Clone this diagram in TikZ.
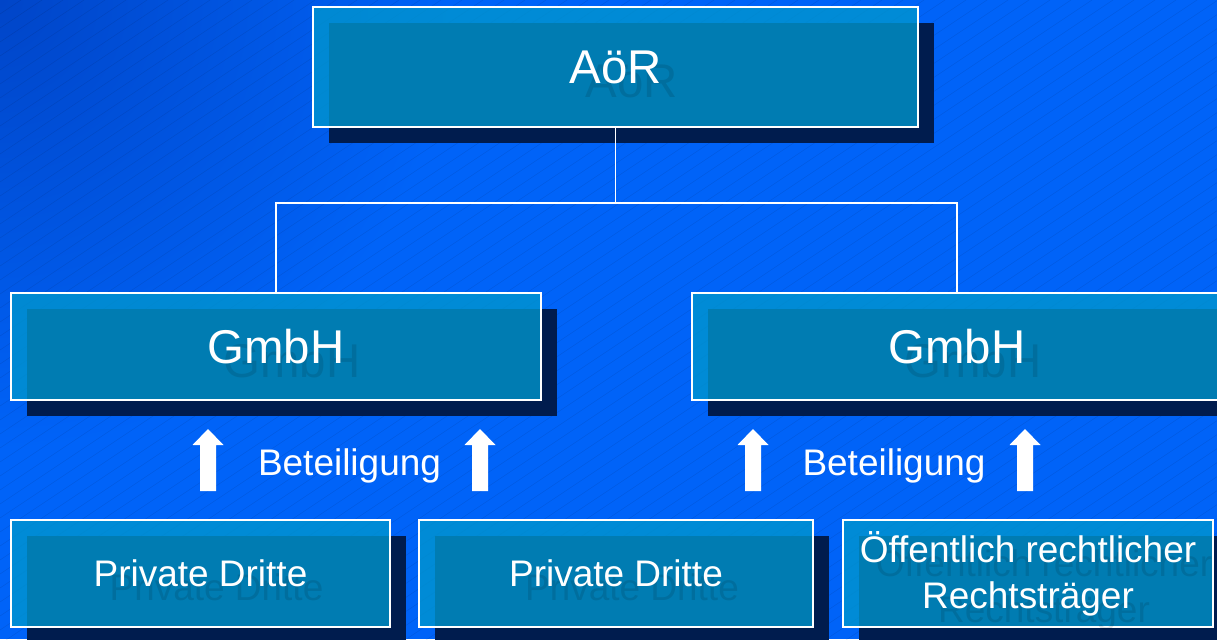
\documentclass[tikz,border=0pt]{standalone}
\usepackage{fontspec}
\setmainfont{Liberation Sans}
\usetikzlibrary{shadows}
\definecolor{bgdark}{RGB}{0,69,200}
\definecolor{bgbright}{RGB}{0,99,248}
\definecolor{boxfill}{RGB}{0,150,205}
\definecolor{navy}{RGB}{0,28,78}
\tikzset{
	box/.style={draw=white,line width=1pt,fill=boxfill,fill opacity=.79,inner sep=0pt,
		drop shadow={shadow xshift=.4cm,shadow yshift=-.4cm,fill=navy,opacity=1,draw=none}},
	ghost/.style={text=black,text opacity=.11,align=center},
	caption/.style={text=white,align=center},
	link/.style={draw=white,line width=1pt},
	hairline/.style={black,opacity=.1,line width=.3pt},
	big/.style={font=\fontsize{33.7}{40}\selectfont},
	small/.style={font=\fontsize{26.3}{32.7}\selectfont},
	pics/uparrow/.style={code={\fill[white](-8,0)--(-8,-46)--(-15.5,-46)--(0,-62)--(15.5,-46)--(8,-46)--(8,0)--cycle;}}
}
\begin{document}
\begin{tikzpicture}[x=.025cm,y=-.025cm]
		\useasboundingbox(0,0)rectangle(1217,639);
		\clip(0,0)rectangle(1217,639);
		% background
		\fill[bgbright](0,0)rectangle(1217,639);
		\shade[inner color=bgdark,outer color=bgbright](0,0)circle(11.25cm);
		\foreach\i in{0,14,...,1456}{\draw[hairline](0,\i)--(\i*1.5,0);}
		% boxes
		\foreach\n/\x/\y/\w/\h/\f/\t in{
			aor/615.5/67/605/120/big/AöR,
			gmbhL/276/346.5/530/107/big/GmbH,
			gmbhR/957/346.5/530/107/big/GmbH,
			privA/200.5/573.5/379/107/small/Private Dritte,
			privB/616/573.5/394/107/small/Private Dritte,
			oeff/1028/573.5/370/107/small/{Öffentlich rechtlicher\\Rechtsträger}}{
			\node[box,minimum width=\w*.025cm,minimum height=\h*.025cm](\n)at(\x,\y){};
			\node[ghost,\f]at([shift={(16,14)}]\n.center){\t};
			\node[caption,\f]at(\n.center){\t};
		}
		\coordinate(bus)at(616,203);
		\draw[link](aor.south)--(aor.south|-bus)-|(gmbhL.north);
		\draw[link](aor.south|-bus)-|(gmbhR.north);
		% Beteiligung
		\foreach\x in{208,480,753,1025}{\pic at(\x,491){uparrow};}
		\node[caption,small,anchor=base](betL)at(349.5,475){Beteiligung};
		\node[caption,small,anchor=base](betR)at(894,475){Beteiligung};
\end{tikzpicture}
\end{document}
